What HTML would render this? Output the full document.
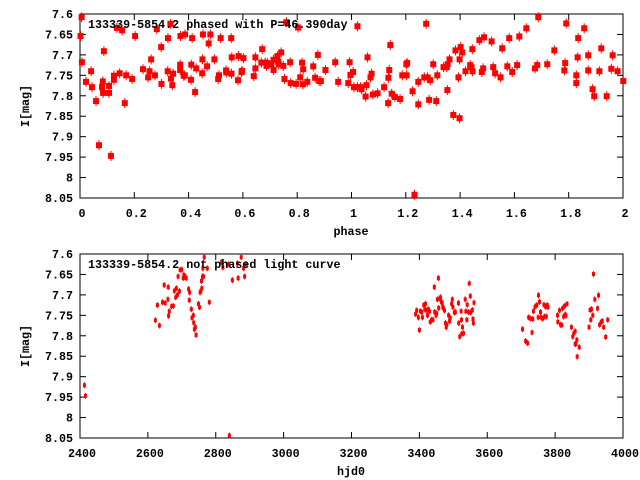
<!DOCTYPE html>
<html><head><meta charset="utf-8">
<style>
html,body{margin:0;padding:0;background:#fff;}
svg{display:block;}
text{font-family:"Liberation Mono",monospace;font-size:11.7px;font-weight:bold;fill:#000;}
</style></head>
<body>
<svg id="chart" width="640" height="480" viewBox="0 0 640 480" xmlns="http://www.w3.org/2000/svg"></svg>
<script>
// ---- phased plot data ----
const phasedPhase = [0.006,0.002,0.007,0.022,0.041,0.044,0.059,0.070,0.081,0.084,0.085,0.088,0.107,0.107,0.114,0.125,0.125,0.136,0.146,0.155,0.165,0.170,0.192,0.203,0.232,0.251,0.256,0.262,0.276,0.283,0.299,0.300,0.323,0.324,0.333,0.335,0.340,0.343,0.369,0.369,0.370,0.382,0.387,0.386,0.409,0.410,0.413,0.424,0.428,0.450,0.451,0.453,0.468,0.474,0.480,0.495,0.509,0.512,0.518,0.538,0.539,0.557,0.558,0.559,0.582,0.584,0.595,0.597,0.602,0.640,0.646,0.646,0.668,0.671,0.682,0.687,0.690,0.705,0.713,0.713,0.727,0.730,0.732,0.741,0.749,0.753,0.760,0.774,0.776,0.796,0.803,0.811,0.818,0.821,0.822,0.837,0.859,0.866,0.876,0.881,
0.887,0.904,0.940,0.951,0.988,0.993,0.996,1.006,1.009,1.022,1.022,1.033,1.037,1.052,1.055,1.059,1.070,1.074,1.079,1.096,1.120,1.135,1.136,1.139,1.143,1.148,1.160,1.179,1.187,1.202,1.203,1.205,1.225,1.232,1.246,1.246,1.268,1.275,1.280,1.286,1.290,1.301,1.312,1.316,1.339,1.351,1.353,1.354,1.361,1.375,1.383,1.394,1.398,1.398,1.402,1.408,1.420,1.437,1.442,1.445,1.446,1.471,1.480,1.485,1.488,1.516,1.522,1.529,1.549,1.555,1.574,1.581,1.592,1.610,1.618,1.644,1.676,1.684,1.688,1.721,1.747,1.784,1.787,1.791,1.828,1.828,1.833,1.835,1.857,1.872,1.872,1.888,1.894,1.913,1.920,1.940,1.957,1.962,1.980,2.001];
const phasedMag = [7.608,7.654,7.718,7.766,7.740,7.779,7.813,7.921,7.779,7.765,7.793,7.691,7.776,7.793,7.947,7.751,7.761,7.634,7.745,7.640,7.818,7.750,7.759,7.654,7.735,7.755,7.740,7.711,7.750,7.637,7.681,7.771,7.740,7.659,7.624,7.758,7.774,7.746,7.724,7.737,7.654,7.751,7.650,7.750,7.761,7.724,7.659,7.791,7.733,7.745,7.711,7.650,7.728,7.672,7.650,7.711,7.759,7.750,7.659,7.738,7.743,7.659,7.746,7.706,7.762,7.703,7.742,7.739,7.708,7.752,7.733,7.706,7.719,7.686,7.719,7.727,7.720,7.724,7.737,7.712,7.703,7.717,7.723,7.694,7.727,7.759,7.620,7.718,7.769,7.771,7.633,7.755,7.719,7.772,7.735,7.766,7.728,7.756,7.700,7.764,
7.764,7.737,7.718,7.766,7.769,7.718,7.749,7.742,7.779,7.779,7.630,7.779,7.784,7.802,7.774,7.706,7.755,7.746,7.797,7.794,7.779,7.818,7.756,7.737,7.676,7.795,7.803,7.808,7.750,7.723,7.750,7.720,7.789,8.042,7.766,7.821,7.755,7.624,7.755,7.810,7.762,7.723,7.813,7.750,7.730,7.730,7.786,7.723,7.711,7.847,7.689,7.755,7.855,7.711,7.681,7.694,7.740,7.725,7.730,7.686,7.740,7.664,7.742,7.733,7.657,7.667,7.730,7.745,7.755,7.684,7.728,7.659,7.742,7.725,7.655,7.635,7.733,7.725,7.608,7.723,7.689,7.738,7.720,7.623,7.769,7.750,7.706,7.659,7.635,7.701,7.738,7.784,7.801,7.740,7.684,7.801,7.734,7.701,7.740,7.764];
// ---- raw light curve data ----
const rawDay = [2413,2416,2622,2634,2628,2643,2648,2651,2660,2659,2663,2661,2670,2675,2678,2682,2684,2687,2689,2695,2700,2693,2704,2706,2709,2713,2720,2723,2722,2728,2730,2734,2735,2737,2740,2742,2749,2752,2754,2756,2759,2758,2761,2762,2764,2766,2775,2781,2817,2821,2838,2840,2849,2866,2864,2875,2882,2885,2890,
3389,3392,3397,3400,3403,3407,3409,3413,3418,3416,3420,3424,3426,3430,3432,3436,3440,3444,3445,3449,3451,3453,3456,3457,3460,3462,3465,3467,3469,3471,3474,3477,3479,3481,3486,3489,3491,3495,3497,3499,3503,3506,3515,3516,3519,3523,3524,3525,3527,3530,3535,3537,3540,3541,3545,3547,3550,3551,3556,3558,3559,3561,
3704,3713,3719,3722,3727,3732,3734,3736,3741,3746,3750,3751,3754,3757,3759,3763,3767,3769,3772,3774,3777,3779,3807,3808,3813,3816,3820,3822,3825,3828,3830,3832,3835,3848,3852,3855,3859,3861,3864,3859,3871,3865,3900,3903,3905,3907,3911,3913,3917,3925,3928,3931,3936,3939,3943,3949,3955];
const rawMag = [7.921,7.947,7.762,7.775,7.725,7.718,7.676,7.720,7.681,7.711,7.740,7.751,7.728,7.727,7.690,7.706,7.684,7.700,7.655,7.639,7.638,7.691,7.659,7.651,7.654,7.659,7.686,7.694,7.713,7.735,7.756,7.750,7.768,7.784,7.779,7.798,7.722,7.730,7.694,7.690,7.684,7.666,7.655,7.635,7.655,7.608,7.635,7.718,7.620,7.633,7.625,8.044,7.664,7.659,7.623,7.608,7.635,7.655,7.625,
7.747,7.738,7.755,7.786,7.740,7.742,7.755,7.725,7.722,7.735,7.738,7.750,7.735,7.740,7.766,7.761,7.761,7.681,7.742,7.750,7.745,7.711,7.659,7.732,7.709,7.706,7.717,7.720,7.729,7.733,7.738,7.769,7.779,7.773,7.750,7.764,7.756,7.722,7.711,7.730,7.743,7.742,7.720,7.769,7.802,7.740,7.761,7.795,7.779,7.794,7.711,7.740,7.761,7.724,7.742,7.672,7.703,7.743,7.737,7.759,7.769,7.719,
7.784,7.813,7.818,7.755,7.758,7.792,7.759,7.740,7.729,7.725,7.755,7.701,7.717,7.742,7.755,7.758,7.724,7.753,7.729,7.753,7.725,7.730,7.750,7.766,7.738,7.773,7.774,7.733,7.753,7.727,7.748,7.751,7.722,7.779,7.802,7.794,7.789,7.820,7.810,7.820,7.828,7.851,7.779,7.737,7.761,7.735,7.750,7.649,7.711,7.733,7.701,7.773,7.766,7.764,7.779,7.803,7.761];
const magTicks = [7.6,7.65,7.7,7.75,7.8,7.85,7.9,7.95,8,8.05];
const magTickLabels = ["7.6","7.65","7.7","7.75","7.8","7.85","7.9","7.95","8","8.05"];
const phaseTicks = [0,0.2,0.4,0.6,0.8,1,1.2,1.4,1.6,1.8,2];
const phaseTickLabels = ["0","0.2","0.4","0.6","0.8","1","1.2","1.4","1.6","1.8","2"];
const dayTicks = [2400,2600,2800,3000,3200,3400,3600,3800,4000];
const dayTickLabels = ["2400","2600","2800","3000","3200","3400","3600","3800","4000"];

const NS="http://www.w3.org/2000/svg";
const svg=document.getElementById('chart');
function mk(tag,attrs,parent){const e=document.createElementNS(NS,tag);for(const k in attrs)e.setAttribute(k,attrs[k]);(parent||svg).appendChild(e);return e;}

function drawPlot(cfg){
  const L=80,R=623,T=cfg.top,B=cfg.top+184;
  const sx=v=>L+(v-cfg.xmin)/(cfg.xmax-cfg.xmin)*(R-L);
  const sy=v=>T+(v-7.6)/(8.05-7.6)*(B-T);
  const g=mk('g',{});
  
  
  const frame=mk('rect',{x:L,y:T,width:R-L,height:B-T,fill:'none',stroke:'#000','stroke-width':1},g);
  
  
  magTicks.forEach((v,i)=>{
    const y=sy(v);
    mk('line',{x1:L,y1:y,x2:L+6,y2:y,stroke:'#000'},g);
    mk('line',{x1:R,y1:y,x2:R-6,y2:y,stroke:'#000'},g);
    const t=mk('text',{x:73,y:y+4,'text-anchor':'end'},g);
    t.textContent=magTickLabels[i];
    
    
  });
  cfg.xt.forEach((v,i)=>{
    const x=sx(v);
    mk('line',{x1:x,y1:B,x2:x,y2:B-6,stroke:'#000'},g);
    mk('line',{x1:x,y1:T,x2:x,y2:T+6,stroke:'#000'},g);
    const t=mk('text',{x:x+2,y:B+19,'text-anchor':'middle'},g);
    t.textContent=cfg.xl[i];
    
    
  });
  const yl=mk('text',{x:29,y:(T+B)/2,'text-anchor':'middle',transform:'rotate(-90 29 '+((T+B)/2)+')'},g);
  yl.textContent='I[mag]';
  
  
  const xl=mk('text',{x:cfg.xtitleX,y:B+37,'text-anchor':'middle'},g);
  xl.textContent=cfg.xtitle;
  
  
  const pts=mk('g',{fill:'#f00',stroke:'#f00'},g);
  
  
  cfg.xs.forEach((v,i)=>{
    const x=sx(v),y=sy(cfg.ys[i]);
    mk('line',{x1:x,y1:y-cfg.eh,x2:x,y2:y+cfg.eh,'stroke-width':1},pts);
    const r=mk('rect',{x:x-cfg.w/2,y:y-cfg.h/2,width:cfg.w,height:cfg.h,stroke:'none'},pts);
    
    
  });
  const title=mk('text',{x:88,y:T+14},g);
  title.textContent=cfg.title;
  
  
}
drawPlot({name:'phased-plot',top:14,xmin:0,xmax:2,xs:phasedPhase,ys:phasedMag,xt:phaseTicks,xl:phaseTickLabels,xtitle:'phase',xtitleX:351,title:'133339-5854.2 phased with P=46.390day',w:6,h:6,eh:5});
drawPlot({name:'raw-light-curve-plot',top:254,xmin:2400,xmax:4000,xs:rawDay,ys:rawMag,xt:dayTicks,xl:dayTickLabels,xtitle:'hjd0',xtitleX:351,title:'133339-5854.2 not phased light curve',w:3,h:4,eh:3});
</script>
</body></html>
